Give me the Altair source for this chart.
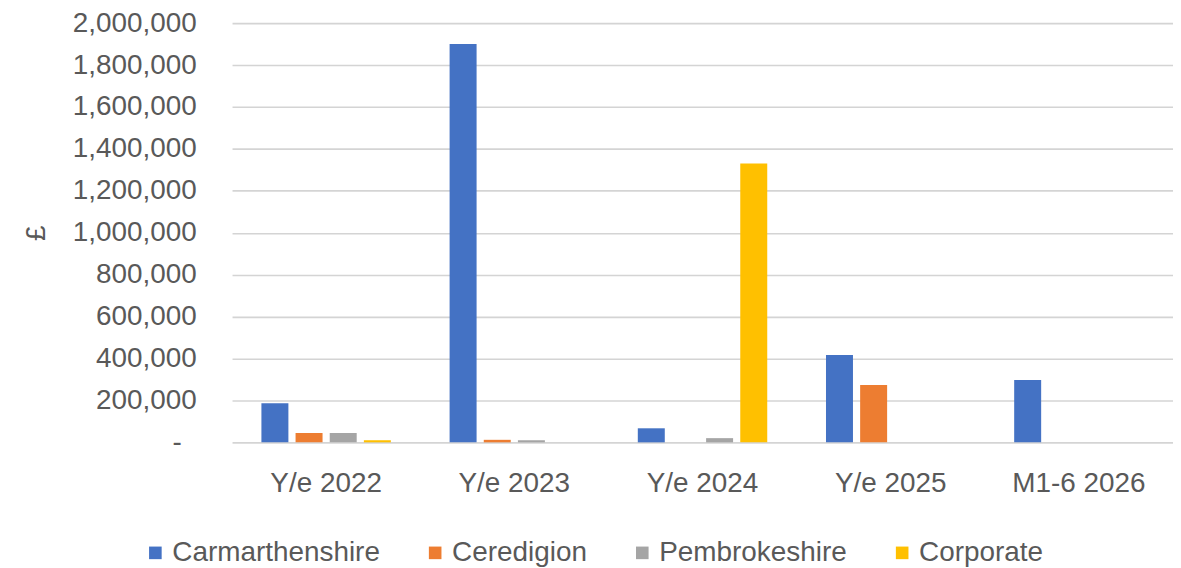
import altair as alt
import pandas as pd

periods = ["Y/e 2022", "Y/e 2023", "Y/e 2024", "Y/e 2025", "M1-6 2026"]
series = ["Carmarthenshire", "Ceredigion", "Pembrokeshire", "Corporate"]
colors = ["#4472C4", "#ED7D31", "#A5A5A5", "#FFC000"]

carmarthenshire = [186000, 1900000, 67000, 417000, 298000]
ceredigion = [45000, 12000, 0, 274000, 0]
pembrokeshire = [45000, 10000, 20000, 0, 0]
corporate = [10000, 0, 1330000, 0, 0]

y_ticks = [0, 200000, 400000, 600000, 800000, 1000000, 1200000, 1400000,
           1600000, 1800000, 2000000]

rows = []
for name, vals in zip(series, [carmarthenshire, ceredigion, pembrokeshire, corporate]):
    for p, v in zip(periods, vals):
        rows.append({"period": p, "series": name, "value": v})
df = pd.DataFrame(rows)

FONT = "Liberation Sans"
GREY = "#595959"

chart = alt.Chart(df).mark_bar().encode(
    x=alt.X("period:N", sort=periods, title=None,
            scale=alt.Scale(paddingInner=0, paddingOuter=0),
            axis=alt.Axis(labelAngle=0, ticks=False, domain=False, grid=False,
                          labelPadding=27, labelFontSize=28, labelFont=FONT,
                          labelColor=GREY)),
    xOffset=alt.XOffset("series:N", sort=series,
                        scale=alt.Scale(paddingInner=0.21, paddingOuter=0.86)),
    y=alt.Y("value:Q", title="£",
            scale=alt.Scale(domain=[0, 2000000], nice=False),
            axis=alt.Axis(values=y_ticks, ticks=False, domain=False,
                          gridColor="#D4D4D4", gridWidth=1.6,
                          labelExpr="datum.value == 0 ? '-' : format(datum.value, ',')",
                          labelPadding={"condition": {"test": "datum.value === 0", "value": 51},
                                        "value": 36},
                          labelFontSize=28, labelFont=FONT,
                          labelColor=GREY, titleFont=FONT, titleFontSize=28,
                          titleFontWeight="normal", titleColor=GREY,
                          titleX=-196, titleY=210.5, titleAngle=-90,
                          titleAlign="center", titleBaseline="middle")),
    color=alt.Color("series:N", sort=series,
                    scale=alt.Scale(domain=series, range=colors),
                    legend=alt.Legend(title=None, orient="none", direction="horizontal",
                                      legendX=-91, legendY=518,
                                      symbolType="square", symbolSize=160,
                                      symbolStrokeWidth=0, labelLimit=0,
                                      labelFontSize=28, labelFont=FONT,
                                      labelColor=GREY, labelOffset=3,
                                      columnPadding=41)),
).properties(
    width=945,
    height=421,
    padding={"left": 225, "top": 14, "right": 0, "bottom": 125},
    autosize=alt.AutoSizeParams(type="none"),
).configure_view(stroke=None)

chart.save("out.html", embed_options={"renderer": "svg", "actions": False})
